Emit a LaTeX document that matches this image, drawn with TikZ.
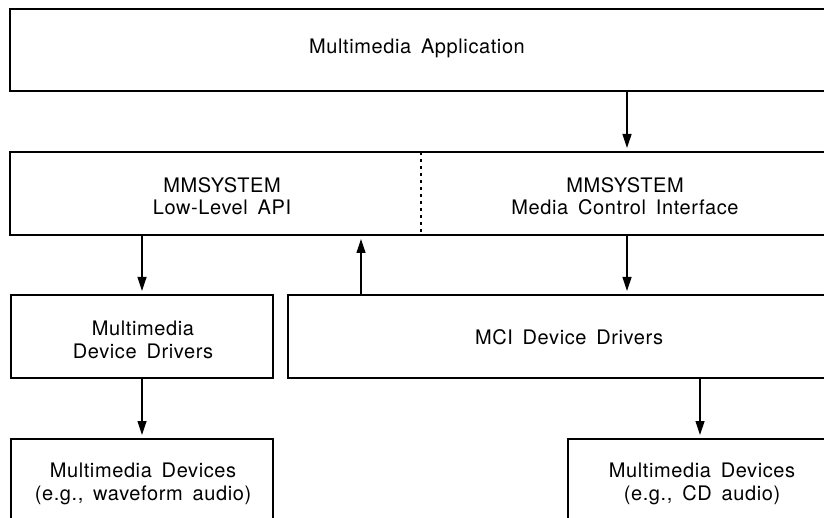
\documentclass[tikz,border=0pt]{standalone}
\usepackage{fontspec}
\setmainfont{TeX Gyre Heros}[LetterSpace=3,WordSpace=1.6]
\usetikzlibrary{arrows.meta}

\tikzset{
  layerbox/.style={draw, line width=2.8pt, rectangle, inner sep=0pt, outer sep=0pt, anchor=north west},
  label text/.style={align=center, inner sep=0pt, font=\fontsize{20}{22.5}\selectfont},
  arr/.style={line width=1.2pt, -{Triangle[length=14pt,width=9pt]}, shorten >=4pt},
  divider/.style={line width=1.3pt, dash pattern=on 3pt off 4pt}
}

\begin{document}
\begin{tikzpicture}[x=1pt, y=-1pt]
  \useasboundingbox (0,0) rectangle (824,518);
  \clip (0,0) rectangle (824,518);

  % layered boxes (right and bottom sides run off the page)
  \node[layerbox, minimum width=830pt, minimum height=82pt] (app) at (10,9) {};
  \node[layerbox, minimum width=830pt, minimum height=83pt] (mmsys) at (10,152) {};
  \node[layerbox, minimum width=262pt, minimum height=83pt] (mmdrv) at (11,295) {};
  \node[layerbox, minimum width=552pt, minimum height=83pt] (mcidrv) at (288,295) {};
  \node[layerbox, minimum width=262pt, minimum height=110pt] (devwave) at (11,439) {};
  \node[layerbox, minimum width=272pt, minimum height=110pt] (devcd) at (568,439) {};

  % texts
  \node[label text] (apptext) at (417,48) {Multimedia Application};
  \node[label text] (lowtext) at (222,196) {MMSYSTEM\\Low-Level API};
  \node[label text] (mcitext) at (625,196) {MMSYSTEM\\Media Control Interface};
  \node[label text] (mmdrvtext) at (143,340) {Multimedia\\Device Drivers};
  \node[label text] (mcidrvtext) at (569,337) {MCI Device Drivers};
  \node[label text] (wavetext) at (143,484) {Multimedia Devices\\(e.g., waveform audio)};
  \node[label text] (cdtext) at (702,484) {Multimedia Devices\\(e.g., CD audio)};

  % columns of the connectors
  \coordinate (colA) at (142,0);
  \coordinate (colB) at (361,0);
  \coordinate (colC) at (627,0);
  \coordinate (colD) at (700,0);
  \coordinate (colE) at (421,0);

  % split between the two MMSYSTEM interfaces
  \draw[divider] (mmsys.north -| colE) -- (mmsys.south -| colE);

  % connectors
  \draw[arr] (app.south -| colC) -- (mmsys.north -| colC);
  \draw[arr] (mmsys.south -| colA) -- (mmdrv.north -| colA);
  \draw[arr] (mcidrv.north -| colB) -- (mmsys.south -| colB);
  \draw[arr] (mmsys.south -| colC) -- (mcidrv.north -| colC);
  \draw[arr] (mmdrv.south -| colA) -- (devwave.north -| colA);
  \draw[arr] (mcidrv.south -| colD) -- (devcd.north -| colD);
\end{tikzpicture}
\end{document}
